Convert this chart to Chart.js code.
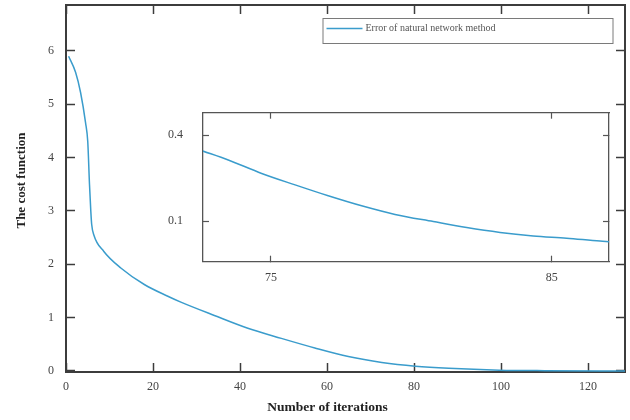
<!DOCTYPE html>
<html>
<head>
<meta charset="utf-8">
<script src="https://cdn.jsdelivr.net/npm/chart.js@4.4.1/dist/chart.umd.min.js"></script>
<style>
  html, body { margin: 0; padding: 0; background: #ffffff; }
  #wrap { position: relative; width: 630px; height: 420px; }
  #main { position: absolute; left: 0; top: 0; }
  #inset { position: absolute; left: 150px; top: 100px; }
</style>
</head>
<body>
<div id="wrap">
  <canvas id="main" width="630" height="420"></canvas>
  <canvas id="inset" width="470" height="195"></canvas>
</div>
<script>
// ---- data ----
const iterations = [0.6, 2.2, 3.35, 4.5, 5.0, 5.4, 5.7, 5.9, 6.4, 8.7, 12.6, 18.0, 23.4, 26.4, 34.1, 41.8, 49.5, 57.2, 64.9, 72.6, 80.3, 88, 99.6, 110, 128.5];
const costValues = [5.9, 5.6, 5.22, 4.65, 4.3, 3.5, 3.0, 2.75, 2.55, 2.24, 1.93, 1.62, 1.40, 1.29, 1.04, 0.80, 0.61, 0.43, 0.27, 0.16, 0.09, 0.05, 0.015, 0.005, 0.0];
const xTickValues = [0, 20, 40, 60, 80, 100, 120];
const yTickValues = [0, 1, 2, 3, 4, 5, 6];

const insetIterations = [72.55, 73.48, 74.67, 75.86, 77.04, 78.23, 79.42, 80.78, 81.97, 83.16, 84.34, 85.53, 86.72, 87.04];
const insetCost = [0.345, 0.313, 0.266, 0.226, 0.188, 0.153, 0.123, 0.098, 0.077, 0.060, 0.048, 0.040, 0.030, 0.028];
const insetXTicks = [75, 85];
const insetYTicks = [0.1, 0.4];

const seriesLabel = 'Error of natural network method';
const xTitle = 'Number of iterations';
const yTitle = 'The cost function';

// ---- styles ----
const LINE_COLOR = '#3a9ccc';
const AXIS_COLOR = '#3c3c3c';
const TEXT_COLOR = '#444444';
const SERIF = '"Liberation Serif", "DejaVu Serif", serif';

function pairs(xs, ys) { return xs.map((x, i) => ({ x: x, y: ys[i] })); }
function fixedTicks(values) {
  return function (scale) { scale.ticks = values.map(v => ({ value: v })); };
}

function axis(opts) {
  const o = {
    type: 'linear',
    position: opts.position,
    min: opts.min,
    max: opts.max,
    afterBuildTicks: fixedTicks(opts.ticks),
    afterFit: s => {
      opts.afterFit(s);
      s.paddingTop = 0; s.paddingBottom = 0; s.paddingLeft = 0; s.paddingRight = 0;
    },
    grid: {
      display: true,
      drawOnChartArea: false,
      drawTicks: true,
      tickLength: -opts.tickLen,
      tickColor: opts.color,
      tickWidth: opts.tickWidth
    },
    border: { display: true, color: opts.color, width: opts.borderWidth },
    ticks: {
      display: opts.labels,
      color: TEXT_COLOR,
      font: { family: SERIF, size: 12 },
      padding: opts.padding,
      maxRotation: 0,
      autoSkip: false
    },
    title: opts.title || { display: false }
  };
  if (opts.axisKey) o.axis = opts.axisKey;
  return o;
}

// nudge the axis titles to where the reference puts them
const titleNudge = {
  id: 'titleNudge',
  afterLayout(chart) {
    const shifts = { x: [-18, 0], y: [0, -8] };
    Object.keys(shifts).forEach(id => {
      const sc = chart.scales[id];
      if (!sc || sc._nudged) return;
      const orig = sc.drawTitle;
      sc.drawTitle = function () {
        const ctx = this.ctx;
        ctx.save();
        ctx.translate(shifts[id][0], shifts[id][1]);
        orig.apply(this, arguments);
        ctx.restore();
      };
      sc._nudged = true;
    });
  }
};

// legend drawn inside the plot, with a frame
const frameLegend = {
  id: 'frameLegend',
  afterDraw(chart) {
    const ca = chart.chartArea;
    const ctx = chart.ctx;
    const ds = chart.data.datasets[0];
    const left = ca.left + 256.5, top = ca.top + 13, w = 290, h = 25;
    ctx.save();
    ctx.fillStyle = '#ffffff';
    ctx.fillRect(left, top, w, h);
    ctx.strokeStyle = '#7a7a7a';
    ctx.lineWidth = 1;
    ctx.strokeRect(left + 0.5, top + 0.5, w, h);
    ctx.strokeStyle = ds.borderColor;
    ctx.lineWidth = 1.5;
    ctx.beginPath();
    ctx.moveTo(left + 4, top + 10.5);
    ctx.lineTo(left + 40, top + 10.5);
    ctx.stroke();
    ctx.fillStyle = '#555555';
    ctx.font = '10px ' + SERIF;
    ctx.textBaseline = 'middle';
    ctx.textAlign = 'left';
    ctx.fillText(ds.label, left + 43, top + 10.5);
    ctx.restore();
  }
};

const whitePlot = {
  id: 'whitePlot',
  beforeDraw(chart) {
    const ca = chart.chartArea;
    const ctx = chart.ctx;
    ctx.save();
    ctx.fillStyle = '#ffffff';
    ctx.fillRect(ca.left, ca.top, ca.right - ca.left, ca.bottom - ca.top);
    ctx.restore();
  }
};

new Chart(document.getElementById('main'), {
  type: 'line',
  data: {
    datasets: [{
      label: seriesLabel,
      data: pairs(iterations, costValues),
      borderColor: LINE_COLOR,
      borderWidth: 1.5,
      pointRadius: 0,
      fill: false,
      cubicInterpolationMode: 'monotone'
    }]
  },
  options: {
    responsive: false,
    animation: false,
    devicePixelRatio: 1,
    layout: { padding: { left: 0, right: 5, top: 5, bottom: 0 } },
    plugins: { legend: { display: false }, tooltip: { enabled: false } },
    scales: {
      x: axis({ position: 'bottom', min: 0, max: 128.5, ticks: xTickValues, tickLen: 9, color: AXIS_COLOR,
        tickWidth: 1.5, borderWidth: 2, labels: true, padding: 17,
        afterFit: s => { s.height = 48; },
        title: { display: true, text: xTitle, color: '#222', font: { family: SERIF, size: 13.5, weight: 'bold' }, padding: { top: 0, bottom: 4 } } }),
      y: axis({ position: 'left', min: -0.02, max: 6.86, ticks: yTickValues, tickLen: 9, color: AXIS_COLOR,
        tickWidth: 1.5, borderWidth: 2, labels: true, padding: 21,
        afterFit: s => { s.width = 66; },
        title: { display: true, text: yTitle, color: '#222', font: { family: SERIF, size: 13, weight: 'bold' }, padding: { top: 14, bottom: 0 } } }),
      x2: axis({ axisKey: 'x', position: 'top', min: 0, max: 128.5, ticks: xTickValues, tickLen: 9, color: AXIS_COLOR,
        tickWidth: 1.5, borderWidth: 2, labels: false, padding: 0,
        afterFit: s => { s.height = 0; } }),
      y2: axis({ axisKey: 'y', position: 'right', min: -0.02, max: 6.86, ticks: yTickValues, tickLen: 9, color: AXIS_COLOR,
        tickWidth: 1.5, borderWidth: 2, labels: false, padding: 0,
        afterFit: s => { s.width = 0; } })
    }
  },
  plugins: [frameLegend, titleNudge]
});

new Chart(document.getElementById('inset'), {
  type: 'line',
  data: {
    datasets: [{
      label: seriesLabel,
      data: pairs(insetIterations, insetCost),
      borderColor: LINE_COLOR,
      borderWidth: 1.5,
      pointRadius: 0,
      fill: false,
      cubicInterpolationMode: 'monotone'
    }]
  },
  options: {
    responsive: false,
    animation: false,
    devicePixelRatio: 1,
    layout: { padding: { left: 0, right: 11, top: 12.7, bottom: 0 } },
    plugins: { legend: { display: false }, tooltip: { enabled: false } },
    scales: {
      x: axis({ position: 'bottom', min: 72.58, max: 87.04, ticks: insetXTicks, tickLen: 6, color: '#555',
        tickWidth: 1.2, borderWidth: 1.3, labels: true, padding: 15,
        afterFit: s => { s.height = 33.3; } }),
      y: axis({ position: 'left', min: -0.042, max: 0.478, ticks: insetYTicks, tickLen: 6, color: '#555',
        tickWidth: 1.2, borderWidth: 1.3, labels: true, padding: 26,
        afterFit: s => { s.width = 53; } }),
      x2: axis({ axisKey: 'x', position: 'top', min: 72.58, max: 87.04, ticks: insetXTicks, tickLen: 6, color: '#555',
        tickWidth: 1.2, borderWidth: 1.3, labels: false, padding: 0,
        afterFit: s => { s.height = 0; } }),
      y2: axis({ axisKey: 'y', position: 'right', min: -0.042, max: 0.478, ticks: insetYTicks, tickLen: 6, color: '#555',
        tickWidth: 1.2, borderWidth: 1.3, labels: false, padding: 0,
        afterFit: s => { s.width = 0; } })
    }
  },
  plugins: [whitePlot]
});
</script>
</body>
</html>
